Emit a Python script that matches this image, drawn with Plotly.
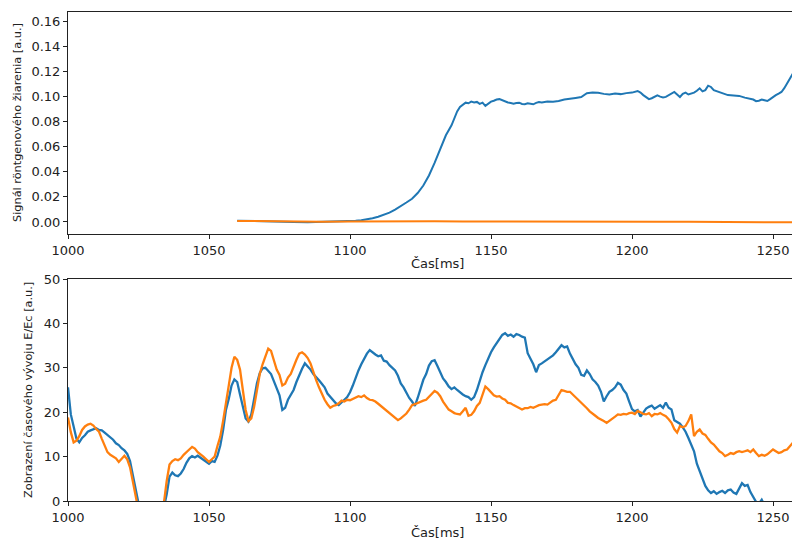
import plotly.graph_objects as go
from plotly.subplots import make_subplots

# ---- top panel: X-ray signal ----
t_top = [1060, 1065, 1070, 1075, 1080, 1085, 1090, 1095, 1100, 1102, 1104, 1106, 1108, 1110,
         1112, 1114, 1116, 1118, 1120, 1122, 1124, 1126, 1128, 1130, 1132, 1134, 1136, 1137,
         1138, 1139, 1140, 1141, 1142, 1143, 1144, 1145, 1146, 1147, 1148, 1149, 1150, 1151,
         1152, 1153, 1154, 1155, 1156, 1157, 1158, 1159, 1160, 1161, 1162, 1163, 1164, 1165,
         1166, 1167, 1168, 1170, 1172, 1174, 1176, 1178, 1180, 1182, 1184, 1186, 1188, 1190,
         1192, 1194, 1196, 1198, 1200, 1202, 1203, 1204, 1205, 1206, 1207, 1208, 1209, 1210,
         1211, 1212, 1213, 1214, 1215, 1216, 1217, 1218, 1219, 1220, 1221, 1222, 1223, 1224,
         1225, 1226, 1227, 1228, 1229, 1230, 1231, 1232, 1233, 1234, 1236, 1238, 1240, 1242,
         1243, 1244, 1245, 1246, 1247, 1248, 1249, 1250, 1251, 1252, 1253, 1254, 1255, 1256,
         1257, 1258, 1259, 1260, 1261, 1262]
xray_blue = [0.0010, 0.0009, 0.0005, 0.0002, 0.0000, -0.0002, 0.0000, 0.0002, 0.0006, 0.0009,
             0.0013, 0.0020, 0.0030, 0.0042, 0.0057, 0.0074, 0.0098, 0.0130, 0.0155, 0.0185,
             0.0230, 0.0290, 0.0370, 0.0470, 0.0580, 0.0690, 0.0770, 0.0820, 0.0880, 0.0915,
             0.0935, 0.0950, 0.0945, 0.0958, 0.0952, 0.0956, 0.0940, 0.0950, 0.0925, 0.0945,
             0.0958, 0.0965, 0.0975, 0.0978, 0.0968, 0.0958, 0.0952, 0.0948, 0.0942, 0.0948,
             0.0950, 0.0940, 0.0937, 0.0945, 0.0940, 0.0937, 0.0948, 0.0955, 0.0952, 0.0960,
             0.0958, 0.0963, 0.0975, 0.0984, 0.0988, 0.0995, 0.1025, 0.1030, 0.1028, 0.1020,
             0.1015, 0.1022, 0.1018, 0.1026, 0.1030, 0.1043, 0.1030, 0.1010, 0.0995, 0.0978,
             0.0985, 0.0998, 0.1008, 0.0998, 0.0992, 0.0996, 0.1010, 0.1025, 0.1035, 0.1015,
             0.0995, 0.1020, 0.1030, 0.1015, 0.1022, 0.1030, 0.1045, 0.1064, 0.1040, 0.1050,
             0.1085, 0.1075, 0.1050, 0.1042, 0.1035, 0.1022, 0.1013, 0.1010, 0.1008, 0.1004,
             0.0990, 0.0982, 0.0975, 0.0962, 0.0965, 0.0975, 0.0968, 0.0963, 0.0978, 0.0998,
             0.1010, 0.1022, 0.1035, 0.1065, 0.1100, 0.1140, 0.1180, 0.1220, 0.1260, 0.1290,
             0.1320, 0.1350]
t_top_o = [1060, 1065, 1070, 1080, 1090, 1100, 1110, 1120, 1130, 1140, 1150, 1160, 1170,
           1180, 1190, 1200, 1210, 1220, 1230, 1240, 1250, 1262]
xray_orange = [0.0008, 0.0007, 0.0003, 0.0001, 0.0002, 0.0003, 0.0005, 0.0006, 0.0005, 0.0004,
               0.0003, 0.0001, 0.0002, 0.0000, 0.0002, 0.0002, 0.0001, 0.0002, 0.0001, 0.0000,
               -0.0001, -0.0004]

# ---- bottom panel: E/Ec, 1 ms steps from 1000 to 1262 ----
t_bot = list(range(1000, 1263))
ee_blue = [
    25.6, 19.5, 16.8, 14.0, 13.2, 14.2, 14.8, 15.6, 15.9, 16.2,   # 1000
    16.4, 16.0, 15.9, 15.4, 14.9, 14.2, 13.8, 13.0, 12.6, 11.9,   # 1010
    11.4, 10.6, 9.0, 5.8, 2.4, -1.5, -5, -8, -10, -10,            # 1020
    -10, -9, -7, -4, -1.5, 1.5, 5.5, 6.4, 5.8, 5.6,               # 1030
    6.2, 7.2, 8.6, 9.6, 10.1, 9.8, 10.2, 9.7, 9.2, 8.8,           # 1040
    8.4, 9.0, 8.8, 10.2, 12.5, 16.0, 20.5, 23.0, 26.0, 27.4,      # 1050
    26.8, 24.0, 21.0, 18.6, 17.9, 19.5, 23.0, 26.5, 28.8, 29.9,   # 1060
    30.0, 29.2, 28.6, 27.0, 25.5, 23.8, 20.5, 21.0, 22.8, 23.8,   # 1070
    25.0, 26.8, 28.5, 29.8, 31.0, 30.4, 29.6, 28.6, 28.0, 27.2,   # 1080
    26.4, 25.6, 24.2, 23.4, 22.6, 22.0, 21.6, 22.3, 22.8, 23.4,   # 1090
    24.5, 26.0, 27.8, 29.4, 30.8, 32.0, 33.2, 34.0, 33.4, 33.0,   # 1100
    32.6, 32.8, 31.6, 31.4, 30.6, 30.0, 29.4, 28.2, 26.5, 25.6,   # 1110
    24.2, 23.2, 22.4, 21.4, 23.2, 25.5, 27.3, 28.6, 30.5, 31.5,   # 1120
    31.7, 30.4, 29.0, 27.6, 26.8, 25.8, 25.2, 25.6, 25.0, 24.4,   # 1130
    24.0, 23.6, 23.4, 22.8, 23.4, 25.0, 27.3, 29.0, 30.6, 32.2,   # 1140
    33.5, 34.6, 35.5, 36.3, 37.4, 37.8, 37.2, 37.5, 37.0, 37.6,   # 1150
    37.4, 37.0, 36.8, 33.3, 32.0, 30.8, 29.0, 30.6, 31.0, 31.4,   # 1160
    31.8, 32.3, 32.8, 33.5, 34.2, 35.1, 34.6, 34.8, 33.2, 31.8,   # 1170
    30.8, 30.0, 28.4, 28.2, 29.4, 28.6, 27.4, 26.8, 26.0, 24.6,   # 1180
    22.4, 23.6, 24.6, 25.0, 25.6, 26.6, 26.2, 25.0, 24.2, 22.4,   # 1190
    20.7, 20.2, 20.5, 19.0, 19.8, 20.8, 21.2, 21.5, 20.8, 21.2,   # 1200
    21.6, 21.0, 22.2, 21.0, 20.6, 18.2, 17.8, 17.4, 16.6, 15.6,   # 1210
    14.2, 12.8, 11.2, 8.4, 6.6, 4.8, 3.4, 2.4, 1.8, 2.2,          # 1220
    1.6, 2.0, 2.3, 1.8, 2.4, 2.6, 1.9, 1.6, 3.0, 4.0,             # 1230
    3.4, 3.6, 2.0, 1.0, -0.2, -0.6, 0.3, -1.0, -2.5, -3.5,        # 1240
    -4, -5, -5.5, -6, -6, -6.5, -7, -7, -7.5, -8,                 # 1250
    -8, -8, -8]                                                   # 1260
ee_orange = [
    18.8, 15.5, 13.2, 13.6, 14.6, 16.0, 16.8, 17.2, 17.4, 17.0,   # 1000
    16.2, 15.6, 14.0, 12.4, 11.0, 10.4, 9.9, 9.6, 8.8, 9.6,       # 1010
    10.2, 9.4, 7.6, 4.4, 0.8, -3, -7, -10, -12, -12,              # 1020
    -11, -9, -6, -3.5, -0.5, 4.5, 8.2, 9.0, 9.4, 9.2,             # 1030
    9.6, 10.4, 11.1, 11.6, 12.2, 11.8, 11.0, 10.6, 10.0, 9.4,     # 1040
    8.8, 9.4, 10.0, 12.4, 14.5, 18.0, 22.5, 26.0, 30.0, 32.5,     # 1050
    31.8, 29.6, 25.0, 20.5, 18.0, 18.6, 21.2, 25.0, 28.6, 30.8,   # 1060
    32.6, 34.3, 33.8, 31.7, 29.6, 28.4, 26.0, 26.4, 27.8, 28.6,   # 1070
    30.4, 31.8, 33.2, 33.5, 33.0, 32.2, 31.0, 28.8, 27.2, 25.6,   # 1080
    24.0, 22.8, 21.8, 21.0, 21.4, 21.6, 22.0, 22.6, 22.4, 22.8,   # 1090
    22.7, 23.0, 23.4, 23.6, 23.4, 23.8, 23.2, 22.8, 22.7, 22.4,   # 1100
    21.9, 21.4, 20.8, 20.4, 19.8, 19.3, 18.8, 18.2, 18.6, 19.2,   # 1110
    19.7, 20.6, 21.6, 21.8, 22.1, 22.3, 22.6, 22.8, 23.4, 24.2,   # 1120
    24.8, 24.4, 23.6, 22.4, 21.6, 20.6, 20.2, 19.8, 19.6, 19.5,   # 1130
    20.2, 21.0, 19.2, 19.4, 20.2, 21.4, 22.1, 24.0, 25.8, 25.2,   # 1140
    24.6, 23.8, 23.5, 23.6, 23.1, 22.8, 22.1, 22.0, 21.6, 21.3,   # 1150
    21.0, 20.6, 20.9, 20.9, 21.2, 21.0, 21.3, 21.6, 21.7, 21.8,   # 1160
    21.7, 22.2, 22.6, 22.8, 24.0, 25.0, 24.8, 24.6, 24.6, 24.0,   # 1170
    23.5, 22.8, 22.1, 21.6, 20.9, 20.2, 19.8, 19.2, 18.7, 18.4,   # 1180
    18.0, 17.6, 18.0, 18.4, 19.0, 19.5, 19.4, 19.6, 19.5, 19.8,   # 1190
    19.9, 19.6, 20.3, 20.0, 19.6, 19.5, 19.8, 19.1, 19.6, 19.5,   # 1200
    19.8, 19.4, 19.1, 18.4, 17.6, 16.2, 15.4, 16.9, 16.6, 16.9,   # 1210
    18.0, 19.5, 14.6, 15.6, 16.1, 15.2, 14.9, 14.0, 13.2, 12.7,   # 1220
    12.0, 11.2, 10.8, 10.1, 10.4, 10.8, 10.6, 11.0, 11.2, 11.0,   # 1230
    11.2, 11.4, 11.0, 11.6, 10.8, 10.1, 10.4, 10.2, 10.5, 11.0,   # 1240
    11.6, 11.2, 10.8, 11.0, 11.4, 11.6, 12.4, 13.1, 12.8, 13.2,   # 1250
    13.3, 13.1, 13.4]                                             # 1260

x_ticks = [1000, 1050, 1100, 1150, 1200, 1250]
top_y_ticks = [0.00, 0.02, 0.04, 0.06, 0.08, 0.10, 0.12, 0.14, 0.16]
bot_y_ticks = [0, 10, 20, 30, 40, 50]

BLUE = "#1f77b4"
ORANGE = "#ff7f0e"
FONT = "DejaVu Sans"

# The page body has an 8 px margin; work in screen pixels and convert.
OFF = 8
W, H = 800, 541
AX_L, AX_R = 68, 806          # screen x of plot area
TOP_T, TOP_B = 12, 234        # screen y of top axes
BOT_T, BOT_B = 279, 501       # screen y of bottom axes
L = AX_L - OFF
R = (W + OFF) - AX_R
T = TOP_T - OFF
B = (H + OFF) - BOT_B
plot_h = BOT_B - TOP_T
plot_w = AX_R - AX_L
top_dom = [(BOT_B - TOP_B) / plot_h, 1.0]
bot_dom = [0.0, (BOT_B - BOT_T) / plot_h]

fig = make_subplots(rows=2, cols=1)
fig.add_trace(go.Scatter(x=t_top, y=xray_blue, mode="lines", line=dict(color=BLUE, width=2),
                         showlegend=False), row=1, col=1)
fig.add_trace(go.Scatter(x=t_top_o, y=xray_orange, mode="lines", line=dict(color=ORANGE, width=2),
                         showlegend=False), row=1, col=1)
fig.add_trace(go.Scatter(x=t_bot, y=ee_blue, mode="lines", line=dict(color=BLUE, width=2.3),
                         showlegend=False), row=2, col=1)
fig.add_trace(go.Scatter(x=t_bot, y=ee_orange, mode="lines", line=dict(color=ORANGE, width=2.3),
                         showlegend=False), row=2, col=1)

axis_common = dict(showgrid=False, zeroline=False, showline=True, linecolor="#222", linewidth=1,
                   ticks="outside", ticklen=4, tickcolor="#222", tickwidth=1, automargin=False,
                   tickfont=dict(family=FONT, size=13, color="#222"))

x_range = [1000, 1000 + plot_w / 2.82]
fig.update_xaxes(range=x_range, tickvals=x_ticks, mirror=True, **axis_common)
fig.update_yaxes(**axis_common)
fig.update_layout(
    xaxis=dict(domain=[0, 1]), yaxis=dict(domain=top_dom, range=[-0.0096, 0.1672],
                                         tickvals=top_y_ticks, tickformat=".2f"),
    xaxis2=dict(domain=[0, 1]), yaxis2=dict(domain=bot_dom, range=[0, 50], tickvals=bot_y_ticks),
)

def px_to_paper_x(sx):
    return (sx - AX_L) / plot_w

def px_to_paper_y(sy):
    return (BOT_B - sy) / plot_h

annots = [
    dict(text="Čas[ms]", x=px_to_paper_x(437), y=px_to_paper_y(263), textangle=0, size=13),
    dict(text="Čas[ms]", x=px_to_paper_x(437), y=px_to_paper_y(532), textangle=0, size=13),
    dict(text="Signál röntgenového žiarenia [a.u.]", x=px_to_paper_x(17), y=px_to_paper_y(123),
         textangle=-90, size=11.3),
    dict(text="Zobrazení časového vývoju E/Ec [a.u.]", x=px_to_paper_x(28), y=px_to_paper_y(390),
         textangle=-90, size=11.3),
]
for a in annots:
    fig.add_annotation(text=a["text"], xref="paper", yref="paper", x=a["x"], y=a["y"],
                       xanchor="center", yanchor="middle", showarrow=False, textangle=a["textangle"],
                       font=dict(family=FONT, size=a["size"], color="#222"))

fig.update_layout(width=W, height=H, margin=dict(l=L, r=R, t=T, b=B, autoexpand=False),
                  paper_bgcolor="white", plot_bgcolor="white",
                  font=dict(family=FONT, size=13, color="#222"))

fig.write_html("out.html")
